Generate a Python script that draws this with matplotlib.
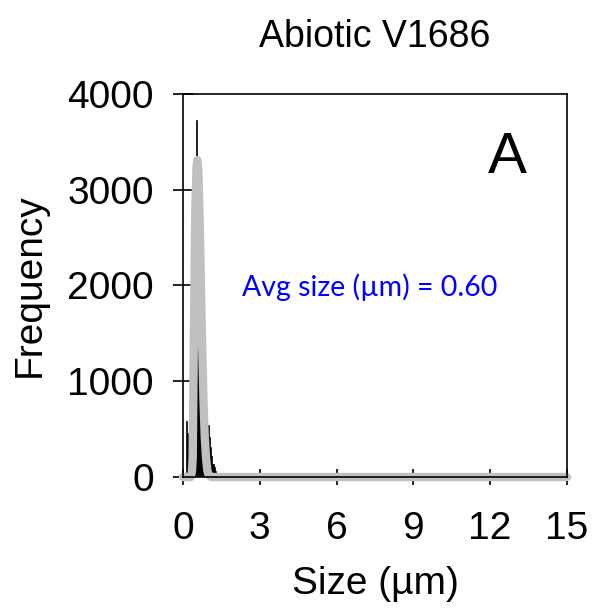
import numpy as np
import matplotlib.pyplot as plt

# histogram bins (um) and counts
bin_edges = [0.00, 0.05, 0.10, 0.15, 0.20, 0.25, 0.30, 0.35, 0.40, 0.45, 0.50,
             0.55, 0.60, 0.65, 0.70, 0.75, 0.80, 0.85, 0.90, 0.95, 1.00,
             1.05, 1.10, 1.15, 1.20, 1.25, 1.30, 1.35, 1.40]
counts = [0, 0, 590, 460, 60, 120, 300, 700, 1400, 2400,
          3730, 1950, 1600, 1300, 1000, 800, 650, 550, 560, 540,
          420, 310, 220, 140, 100, 60, 30, 15]

# fitted curve (grey)
fit_x = [0, 0.30, 0.35, 0.38, 0.43, 0.48, 0.53, 0.56, 0.60, 0.65, 0.70,
         0.73, 0.80, 0.85, 0.90, 0.95, 1.00, 1.10, 15]
fit_y = [0, 0, 60, 200, 1600, 2800, 3250, 3310, 3200, 2700, 2000,
         1600, 800, 420, 200, 70, 20, 0, 0]

x_ticks = [0, 3, 6, 9, 12, 15]
y_ticks = [0, 1000, 2000, 3000, 4000]

plt.rcParams['font.family'] = ['Liberation Sans', 'DejaVu Sans']

fig = plt.figure(figsize=(5.93, 6.10), dpi=100)
ax = fig.add_axes([0.3086, 0.218, 0.6474, 0.628])

widths = np.diff(bin_edges)
ax.bar(bin_edges[:-1], counts, width=widths, align='edge', color='black',
       edgecolor='black', linewidth=0.5)
ax.plot(fit_x, fit_y, color='#c0c0c0', linewidth=6, solid_capstyle='round',
        clip_on=False)

ax.set_xlim(0, 15)
ax.set_ylim(0, 4000)
ax.set_xticks(x_ticks)
ax.set_yticks(y_ticks)
ax.tick_params(direction='inout', width=1.2, labelsize=28)
ax.tick_params(axis='x', length=12, pad=18.5)
ax.tick_params(axis='y', length=14, pad=14)
for s in ax.spines.values():
    s.set_linewidth(1.2)

ax.set_title('Abiotic V1686', fontsize=27, pad=34)
ax.set_xlabel('Size (µm)', fontsize=28, labelpad=13.5)
ax.set_ylabel('Frequency', fontsize=28, labelpad=14)

ax.text(12.66, 3330, 'A', fontsize=42, ha='center', va='center')
ax.text(2.3, 1985, 'Avg size (µm) = 0.60', fontsize=20.5, color='#0000ff',
        ha='left', va='center', family=['Lato', 'DejaVu Sans'])

fig.savefig('out.png', dpi=100)
